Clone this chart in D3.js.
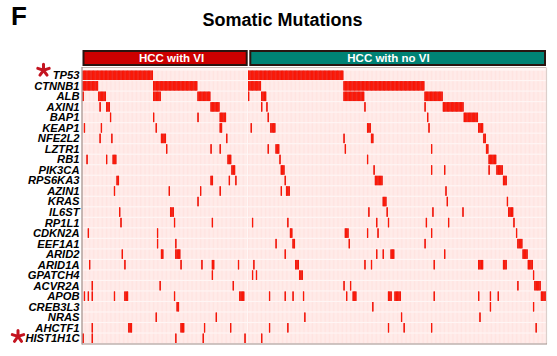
<!DOCTYPE html>
<html><head><meta charset="utf-8">
<script src="https://cdn.jsdelivr.net/npm/d3@7"></script>
<style>body{margin:0;background:#fff}svg{display:block}</style>
</head><body>
<script>
const genes = ["TP53","CTNNB1","ALB","AXIN1","BAP1","KEAP1","NFE2L2","LZTR1","RB1","PIK3CA","RPS6KA3","AZIN1","KRAS","IL6ST","RP1L1","CDKN2A","EEF1A1","ARID2","ARID1A","GPATCH4","ACVR2A","APOB","CREB3L3","NRAS","AHCTF1","HIST1H1C"];
const starredGenes = ["TP53","HIST1H1C"];
const groupNames = ["HCC with VI","HCC with no VI"];
const groupSizes = [126, 228];
// mutated sample index ranges [start,end] per gene, HCC with VI
const viRanges = [
 [[0,53]],
 [[0,11],[54,87]],
 [[0,0],[12,17],[54,59],[88,97]],
 [[13,13],[18,20],[98,104]],
 [[21,21],[54,54],[88,88],[105,109]],
 [[1,1],[14,14],[56,56],[105,106]],
 [[13,13],[22,22],[60,63],[110,110]],
 [[64,64],[98,98],[105,105]],
 [[3,3],[18,18],[23,25],[111,113]],
 [[114,116]],
 [[26,27],[98,99],[112,112],[117,117]],
 [[24,24],[66,66],[90,90],[105,105]],
 [[88,88]],
 [[28,28],[67,69]],
 [[29,29],[70,70],[99,99]],
 [[4,4],[57,57]],
 [[57,57],[71,71]],
 [[30,30],[60,61],[71,74]],
 [[5,5],[32,32],[75,75],[91,91],[99,100],[119,119]],
 [[99,99]],
 [[7,7],[59,59],[115,115]],
 [[1,1],[4,4],[7,7],[24,24],[32,34],[70,70],[120,123]],
 [[72,73]],
 [[56,56],[102,102]],
 [[7,7],[35,37],[75,77],[93,93],[113,113]],
 [[0,0],[7,7],[71,71],[92,92],[124,124]]
];
// mutated sample index ranges [start,end] per gene, HCC with no VI
const noViRanges = [
 [[0,72]],
 [[0,9],[73,134]],
 [[0,0],[10,13],[73,88],[135,148]],
 [[10,10],[14,14],[89,89],[135,135],[149,164]],
 [[15,15],[137,137],[165,175]],
 [[2,2],[17,20],[91,93],[138,138],[176,179]],
 [[73,73],[94,95],[180,181]],
 [[15,15],[21,23],[74,74],[140,140],[182,183]],
 [[24,24],[91,91],[184,189]],
 [[25,27],[96,96],[140,140],[150,150],[184,184],[190,194]],
 [[28,28],[97,102],[195,197]],
 [[25,25],[29,31],[151,151]],
 [[103,105],[152,152],[198,198]],
 [[92,92],[106,106],[141,141],[164,164],[199,202]],
 [[3,3],[30,30],[98,98],[107,107],[136,136],[153,153],[203,203]],
 [[32,33],[74,76],[91,91],[99,99],[140,140],[205,205]],
 [[21,21],[34,35],[77,77],[135,135],[206,209]],
 [[28,28],[98,98],[103,103],[109,111],[150,150],[210,213]],
 [[4,4],[36,38],[89,89],[94,94],[142,142],[176,179],[195,197],[214,217]],
 [[3,3],[6,6],[39,41],[218,218]],
 [[73,73],[78,78],[206,206],[219,223]],
 [[16,16],[28,28],[34,34],[42,42],[75,75],[80,82],[107,109],[112,116],[142,142],[176,176],[185,185],[191,191],[224,227]],
 [[95,95],[185,185],[218,218]],
 [[43,43],[117,117],[177,177]],
 [[16,16],[30,30],[107,107],[119,119],[140,140],[220,220]],
 [[10,10]]
];

const W = 557, H = 356;
const svg = d3.select("body").append("svg").attr("width", W).attr("height", H);
svg.append("rect").attr("width", W).attr("height", H).attr("fill", "#fff");

const y = d3.scaleBand().domain(genes).range([70, 343.5]);
const xVI = d3.scaleBand().domain(d3.range(groupSizes[0])).range([82.5, 247]);
const xNo = d3.scaleBand().domain(d3.range(groupSizes[1])).range([248, 546]);
const groups = [
  {name: groupNames[0], x: xVI, ranges: viRanges, fill: "#cc0000", textX: 171.5, box: [83.5, 246.7]},
  {name: groupNames[1], x: xNo, ranges: noViRanges, fill: "#008274", textX: 388.5, box: [250.3, 545]}
];

// grid background
const grid = svg.append("g");
grid.append("rect").attr("x", 82.5).attr("y", 68).attr("width", 463.5).attr("height", 276).attr("fill", "#fff6f5");
groups.forEach(g => {
  const cells = [];
  genes.forEach(gene => g.x.domain().forEach(i => cells.push({gene, i})));
  grid.append("g").selectAll("rect").data(cells).join("rect")
    .attr("x", d => g.x(d.i))
    .attr("y", d => y(d.gene) + 0.6)
    .attr("width", g.x.bandwidth() - 0.35)
    .attr("height", y.bandwidth() - 1.1)
    .attr("fill", "#ffe3e0");
});

// mutations
groups.forEach(g => {
  const muts = [];
  g.ranges.forEach((rs, gi) => rs.forEach(([a, b]) => {
    for (let i = a; i <= b; i++) muts.push({gene: genes[gi], i});
  }));
  const mg = svg.append("g");
  mg.selectAll("rect.dk").data(muts).join("rect").attr("class", "dk")
    .attr("x", d => g.x(d.i))
    .attr("y", d => y(d.gene) + 0.6)
    .attr("width", g.x.bandwidth())
    .attr("height", y.bandwidth() - 1.1)
    .attr("fill", "#dc0000");
  mg.selectAll("rect.br").data(muts).join("rect").attr("class", "br")
    .attr("x", d => g.x(d.i) + 0.15)
    .attr("y", d => y(d.gene) + 0.6)
    .attr("width", g.x.bandwidth() * 0.7)
    .attr("height", y.bandwidth() - 1.1)
    .attr("fill", "#ff1c08");
});

// grid borders
svg.append("line").attr("x1", 82).attr("x2", 546).attr("y1", 67.5).attr("y2", 67.5).attr("stroke", "#c9bbb7").attr("stroke-width", 1);
svg.append("line").attr("x1", 546.5).attr("x2", 546.5).attr("y1", 67.5).attr("y2", 344).attr("stroke", "#dccfcb").attr("stroke-width", 1.2);
svg.append("line").attr("x1", 82).attr("x2", 82).attr("y1", 67).attr("y2", 344.5).attr("stroke", "#a08c87").attr("stroke-width", 1.2);
svg.append("line").attr("x1", 82).attr("x2", 547).attr("y1", 344).attr("y2", 344).attr("stroke", "#a08c87").attr("stroke-width", 1.2);

// headers
groups.forEach(g => {
  svg.append("rect").attr("x", g.box[0]).attr("y", 51).attr("width", g.box[1] - g.box[0]).attr("height", 14)
    .attr("fill", g.fill).attr("stroke", "#2a1410").attr("stroke-width", 2);
  svg.append("text").attr("x", g.textX).attr("y", 62.2).attr("text-anchor", "middle")
    .attr("font-family", "Liberation Sans, Arial, sans-serif").attr("font-weight", "bold").attr("font-size", 11.5)
    .attr("fill", "#fff").text(g.name);
});

// gene labels
svg.append("g").selectAll("text").data(genes).join("text")
  .attr("x", 79.5)
  .attr("y", d => y(d) + y.bandwidth() / 2 + 4)
  .attr("text-anchor", "end")
  .attr("font-family", "Liberation Sans, Arial, sans-serif")
  .attr("font-weight", "bold").attr("font-style", "italic").attr("font-size", 11.2)
  .attr("fill", "#000").text(d => d);

// asterisk markers (drawn as 5-armed star symbols)
const starPos = {TP53: [43.5, -5], HIST1H1C: [18, -1.8]};
const armAngles = d3.range(5).map(k => -Math.PI / 2 + k * 2 * Math.PI / 5);
const starPath = armAngles.map(a => `M0,0L${(6 * Math.cos(a)).toFixed(2)},${(6 * Math.sin(a)).toFixed(2)}`).join("");
svg.append("g").selectAll("path").data(starredGenes).join("path")
  .attr("transform", d => `translate(${starPos[d][0]},${y(d) + y.bandwidth() / 2 + starPos[d][1]})`)
  .attr("d", starPath)
  .attr("stroke", "#c41420").attr("stroke-width", 3).attr("stroke-linecap", "round").attr("fill", "none");

// title and panel letter
svg.append("text").attr("x", 282.5).attr("y", 26).attr("text-anchor", "middle")
  .attr("font-family", "Liberation Sans, Arial, sans-serif").attr("font-weight", "bold").attr("font-size", 18)
  .attr("fill", "#000").text("Somatic Mutations");
svg.append("text").attr("x", 11).attr("y", 24.5)
  .attr("font-family", "Liberation Sans, Arial, sans-serif").attr("font-weight", "bold").attr("font-size", 26)
  .attr("fill", "#000").text("F");
</script>
</body></html>
